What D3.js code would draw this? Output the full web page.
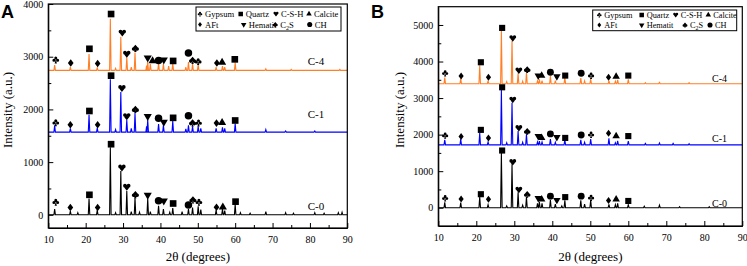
<!DOCTYPE html>
<html>
<head>
<meta charset="utf-8">
<script src="https://cdn.jsdelivr.net/npm/d3@7"></script>
<style>
  body { margin: 0; background: #fff; }
  svg { display: block; background: #fff; }
</style>
</head>
<body>
<svg id="chart" width="747" height="266"></svg>
<script>
// ---- data ----
const xTicks = [10, 20, 30, 40, 50, 60, 70, 80, 90];
const xMinor = [15, 25, 35, 45, 55, 65, 75, 85];
const yTicksA = [0, 1000, 2000, 3000, 4000];
const yMinorA = [500, 1500, 2500, 3500];
const yTicksB = [0, 1000, 2000, 3000, 4000, 5000];
const yMinorB = [500, 1500, 2500, 3500, 4500];

const seriesNames = ["C-0", "C-1", "C-4"];

// baseline intensity of each pattern
const baseA = [0, 1570, 2740];
const baseB = [0, 1720, 3390];

// peaks: [2θ, intensity]
const peaksA_C0 = [[11.7, 110], [15.9, 70], [17.9, 40], [20.9, 310], [23.1, 90], [26.6, 1280], [28.0, 40], [29.4, 830], [31.0, 450], [32.2, 60], [33.2, 330], [34.4, 50], [36.6, 310], [37.3, 60], [39.5, 170], [40.8, 110], [42.5, 50], [43.3, 130], [45.8, 60], [47.5, 110], [48.6, 140], [50.1, 160], [50.8, 100], [54.9, 90], [56.6, 110], [57.2, 80], [60.0, 200], [61.4, 40], [64.0, 30], [68.2, 60], [73.5, 40], [75.6, 30], [81.3, 40], [83.8, 30], [87.6, 40], [88.6, 50]];
const peaksA_C1 = [[11.7, 1700], [15.9, 1640], [20.9, 1900], [23.1, 1650], [26.6, 2570], [28.0, 1620], [29.4, 2330], [31.0, 1800], [32.2, 1640], [33.2, 1930], [36.3, 1680], [36.6, 1800], [39.5, 1720], [40.8, 1700], [43.3, 1780], [46.8, 1630], [47.5, 1700], [48.6, 1680], [50.1, 1680], [50.8, 1640], [54.9, 1640], [56.6, 1660], [57.2, 1640], [60.0, 1730], [68.2, 1620], [73.5, 1590], [81.3, 1590]];
const peaksA_C4 = [[11.7, 2840], [15.9, 2800], [20.9, 3050], [23.1, 2790], [26.6, 3720], [28.0, 2780], [29.4, 3380], [31.0, 2990], [32.2, 2800], [33.2, 3080], [36.3, 2830], [36.6, 2900], [37.3, 2860], [39.5, 2880], [40.8, 2860], [42.2, 2820], [43.3, 2880], [46.8, 2800], [47.5, 2900], [48.6, 2860], [50.1, 2850], [54.9, 2800], [56.6, 2820], [57.2, 2800], [60.0, 2890], [68.2, 2770], [75.0, 2760], [88.0, 2760]];

const peaksB_C0 = [[11.7, 150], [15.9, 140], [20.9, 300], [23.1, 80], [26.6, 1500], [28.0, 50], [29.4, 1190], [31.0, 420], [32.2, 70], [33.2, 300], [36.1, 120], [36.6, 160], [37.3, 120], [39.5, 220], [40.8, 100], [42.5, 50], [43.3, 200], [47.5, 200], [48.5, 100], [50.1, 210], [54.9, 90], [56.6, 80], [57.2, 120], [60.0, 80], [64.2, 40], [68.2, 70], [73.5, 30], [81.3, 30]];
const peaksB_C1 = [[11.7, 1860], [15.9, 1880], [20.9, 2050], [23.1, 1800], [26.6, 3220], [28.0, 1780], [29.4, 2870], [31.0, 2100], [32.2, 1790], [33.2, 2010], [36.1, 1800], [36.6, 1820], [37.3, 1800], [39.5, 1880], [40.8, 1790], [43.3, 1860], [47.5, 1860], [48.5, 1790], [50.1, 1880], [54.9, 1900], [56.6, 1780], [57.2, 1830], [60.0, 1820], [64.5, 1760], [68.2, 1770], [71.8, 1760], [76.0, 1750]];
const peaksB_C4 = [[11.7, 3560], [15.9, 3530], [20.9, 3900], [23.1, 3480], [26.6, 4860], [28.0, 3450], [29.4, 4560], [31.0, 3680], [32.2, 3460], [33.2, 3700], [36.1, 3470], [36.6, 3510], [37.3, 3480], [39.5, 3600], [40.8, 3480], [43.3, 3560], [47.5, 3550], [48.5, 3470], [50.1, 3520], [54.9, 3480], [56.6, 3460], [57.2, 3500], [60.0, 3510], [64.5, 3420], [68.2, 3430], [76.0, 3420]];

// phase markers: [2θ, intensity, phase]
const markersA_C0 = [[12.0, 240, "gypsum"], [15.9, 140, "aft"], [21.0, 380, "quartz"], [23.2, 140, "aft"], [26.8, 1340, "quartz"], [29.7, 890, "csh"], [31.0, 525, "csh"], [33.3, 385, "c2s"], [36.6, 375, "hematit"], [39.5, 265, "ch"], [40.9, 265, "hematit"], [43.4, 215, "quartz"], [47.5, 185, "ch"], [48.7, 285, "c2s"], [50.3, 240, "gypsum"], [55.0, 145, "aft"], [56.7, 145, "calcite"], [60.1, 250, "quartz"]];
const markersA_C1 = [[12.0, 1750, "gypsum"], [15.9, 1710, "aft"], [21.0, 1970, "quartz"], [23.2, 1710, "aft"], [26.8, 2640, "quartz"], [29.7, 2400, "csh"], [31.0, 1865, "csh"], [33.3, 2000, "c2s"], [36.6, 1870, "hematit"], [39.5, 1830, "ch"], [40.9, 1760, "hematit"], [43.4, 1840, "quartz"], [47.5, 1880, "ch"], [48.6, 1745, "c2s"], [50.2, 1745, "gypsum"], [55.0, 1740, "aft"], [56.5, 1750, "calcite"], [60.0, 1790, "quartz"]];
const markersA_C4 = [[12.0, 2940, "gypsum"], [16.0, 2880, "aft"], [21.0, 3150, "quartz"], [23.2, 2870, "aft"], [26.8, 3810, "quartz"], [29.8, 3450, "csh"], [31.0, 3050, "csh"], [33.3, 3160, "c2s"], [36.6, 2980, "hematit"], [37.9, 2920, "calcite"], [39.5, 2930, "ch"], [40.9, 2940, "hematit"], [43.4, 2920, "quartz"], [47.5, 3070, "ch"], [48.6, 2930, "c2s"], [50.1, 2910, "gypsum"], [55.1, 2880, "aft"], [56.5, 2890, "calcite"], [59.9, 2950, "quartz"]];

const markersB_C0 = [[11.8, 262, "gypsum"], [16.0, 240, "aft"], [21.2, 370, "quartz"], [23.2, 230, "aft"], [26.8, 1565, "quartz"], [29.6, 1245, "csh"], [31.2, 490, "csh"], [33.4, 365, "c2s"], [36.3, 262, "hematit"], [37.2, 230, "calcite"], [39.5, 317, "ch"], [41.2, 210, "hematit"], [43.4, 290, "quartz"], [47.6, 317, "ch"], [50.2, 273, "gypsum"], [54.8, 200, "aft"], [56.8, 230, "calcite"], [60.0, 185, "quartz"]];
const markersB_C1 = [[11.8, 1975, "gypsum"], [16.0, 1950, "aft"], [21.2, 2130, "quartz"], [23.2, 1910, "aft"], [26.8, 3295, "quartz"], [29.6, 2950, "csh"], [31.2, 2175, "csh"], [33.4, 2090, "c2s"], [36.3, 1960, "hematit"], [37.2, 1910, "calcite"], [39.5, 2020, "ch"], [41.2, 1930, "hematit"], [43.4, 1910, "quartz"], [47.6, 1990, "ch"], [50.2, 2000, "gypsum"], [54.8, 2040, "aft"], [56.8, 1960, "calcite"], [60.0, 1960, "quartz"]];
const markersB_C4 = [[11.8, 3680, "gypsum"], [16.0, 3605, "aft"], [21.2, 3980, "quartz"], [23.2, 3570, "aft"], [26.8, 4920, "quartz"], [29.6, 4635, "csh"], [31.2, 3750, "csh"], [33.4, 3780, "c2s"], [36.3, 3615, "hematit"], [37.2, 3615, "calcite"], [39.5, 3705, "ch"], [41.2, 3590, "hematit"], [43.4, 3615, "quartz"], [47.6, 3680, "ch"], [50.2, 3615, "gypsum"], [54.8, 3570, "aft"], [56.8, 3590, "calcite"], [60.0, 3615, "quartz"]];

const legendPhases = ["gypsum", "quartz", "csh", "calcite", "aft", "hematit", "c2s", "ch"];
const legendLabels = ["Gypsum", "Quartz", "C-S-H", "Calcite", "AFt", "Hematit", "C2S", "CH"];

// ---- styles ----
const colors = ["#000000", "#0000ff", "#ff7f27"];
const serif = "'Liberation Serif', 'Times New Roman', serif";

const svg = d3.select("#chart");

// custom glyph symbols (filled, drawn in one winding direction)
function blob(ctx, cx, cy, rr) {
  ctx.moveTo(cx + rr, cy);
  ctx.arc(cx, cy, rr, 0, 2 * Math.PI);
}
function tri(ctx, a, b, c) {
  ctx.moveTo(a[0], a[1]);
  ctx.lineTo(b[0], b[1]);
  ctx.lineTo(c[0], c[1]);
  ctx.closePath();
}
const symHeart = {
  draw(ctx, size) {
    const r = Math.sqrt(size) / 2;
    blob(ctx, -0.5 * r, -0.4 * r, 0.53 * r);
    blob(ctx, 0.5 * r, -0.4 * r, 0.53 * r);
    tri(ctx, [-1.0 * r, -0.25 * r], [1.0 * r, -0.25 * r], [0, 1.0 * r]);
  }
};
const symSpade = {
  draw(ctx, size) {
    const r = Math.sqrt(size) / 2;
    blob(ctx, -0.5 * r, 0.2 * r, 0.5 * r);
    blob(ctx, 0.5 * r, 0.2 * r, 0.5 * r);
    tri(ctx, [1.0 * r, 0.1 * r], [-1.0 * r, 0.1 * r], [0, -1.0 * r]);
    tri(ctx, [0, 0.3 * r], [0.35 * r, 1.0 * r], [-0.35 * r, 1.0 * r]);
  }
};
const symClub = {
  draw(ctx, size) {
    const r = Math.sqrt(size) / 2;
    blob(ctx, 0, -0.5 * r, 0.42 * r);
    blob(ctx, -0.52 * r, 0.12 * r, 0.42 * r);
    blob(ctx, 0.52 * r, 0.12 * r, 0.42 * r);
    tri(ctx, [0, 0], [0.32 * r, 1.0 * r], [-0.32 * r, 1.0 * r]);
  }
};
const symCard = {
  draw(ctx, size) {
    const r = Math.sqrt(size) / 2;
    ctx.moveTo(0, -r);
    ctx.lineTo(0.75 * r, 0);
    ctx.lineTo(0, r);
    ctx.lineTo(-0.75 * r, 0);
    ctx.closePath();
  }
};

const phaseSymbol = {
  gypsum: { type: symClub, k: 1.0, rot: 0 },
  quartz: { type: d3.symbolSquare, k: 0.85, rot: 0 },
  csh: { type: symHeart, k: 1.0, rot: 0 },
  calcite: { type: d3.symbolTriangle, k: 0.55, rot: 0 },
  aft: { type: symCard, k: 1.1, rot: 0 },
  hematit: { type: d3.symbolTriangle, k: 0.55, rot: 180 },
  c2s: { type: symSpade, k: 1.0, rot: 0 },
  ch: { type: d3.symbolCircle, k: 0.85, rot: 0 }
};

function drawMarker(g, px, py, phase, size) {
  const s = phaseSymbol[phase];
  g.append("path")
    .attr("d", d3.symbol().type(s.type).size(size * s.k)())
    .attr("transform", `translate(${px},${py}) rotate(${s.rot})`)
    .attr("fill", "#000");
}

function tracePoints(base, peaks) {
  const pts = [[10, base]];
  peaks.forEach(([t, v]) => {
    pts.push([t - 0.2, base], [t, v], [t + 0.2, base]);
  });
  pts.push([90, base]);
  return pts;
}

function drawPanel(p) {
  const x = d3.scaleLinear().domain([10, 90]).range(p.xRange);
  const y = d3.scaleLinear().domain(p.yDomain).range(p.yRange);
  const g = svg.append("g");

  // curves
  const line = d3.line().x((d) => x(d[0])).y((d) => y(d[1]));
  p.peaks.forEach((pk, i) => {
    g.append("path")
      .attr("d", line(tracePoints(p.base[i], pk)))
      .attr("fill", "none")
      .attr("stroke", colors[i])
      .attr("stroke-width", 1.1)
      .attr("stroke-linejoin", "miter");
  });

  // phase markers
  p.markers.forEach((list) => {
    list.forEach(([t, v, ph]) => drawMarker(g, x(t), y(v), ph, p.markerSize));
  });

  // series labels
  p.labelPos.forEach(([t, v], i) => {
    g.append("text")
      .attr("x", x(t))
      .attr("y", y(v))
      .attr("text-anchor", "middle")
      .attr("font-family", serif)
      .attr("font-size", p.labelSize)
      .text(seriesNames[i]);
  });

  // frame
  g.append("rect")
    .attr("x", p.xRange[0])
    .attr("y", p.yRange[1])
    .attr("width", p.xRange[1] - p.xRange[0])
    .attr("height", p.yRange[0] - p.yRange[1])
    .attr("fill", "none")
    .attr("stroke", "#000")
    .attr("stroke-width", 1.2);

  // axes (ticks point inward)
  const gx = g.append("g").attr("transform", `translate(0,${p.yRange[0]})`);
  gx.call(d3.axisBottom(x).tickValues(xTicks).tickFormat(d3.format("d"))
    .tickSize(-5).tickSizeOuter(0).tickPadding(8));
  gx.append("g").call(d3.axisBottom(x).tickValues(xMinor).tickSize(-3).tickFormat(""))
    .call((a) => a.select(".domain").remove());

  const gy = g.append("g").attr("transform", `translate(${p.xRange[0]},0)`);
  gy.call(d3.axisLeft(y).tickValues(p.yTicks).tickFormat(d3.format("d"))
    .tickSize(-5).tickSizeOuter(0).tickPadding(5));
  gy.append("g").call(d3.axisLeft(y).tickValues(p.yMinor).tickSize(-3).tickFormat(""))
    .call((a) => a.select(".domain").remove());

  [gx, gy].forEach((a) => {
    a.attr("font-family", serif).attr("font-size", 10);
    a.selectAll("line, path").attr("stroke", "#000");
    a.selectAll("text").attr("fill", "#000");
  });

  // axis titles
  g.append("text")
    .attr("x", (p.xRange[0] + p.xRange[1]) / 2)
    .attr("y", 261)
    .attr("text-anchor", "middle")
    .attr("font-family", serif)
    .attr("font-size", 13)
    .text("2θ (degrees)");

  g.append("text")
    .attr("transform", `translate(${p.yTitleX},110) rotate(-90)`)
    .attr("text-anchor", "middle")
    .attr("font-family", serif)
    .attr("font-size", 13)
    .text("Intensity (a.u.)");

  // panel letter
  g.append("text")
    .attr("x", p.letterX)
    .attr("y", 18)
    .attr("font-family", "'Liberation Sans', Arial, sans-serif")
    .attr("font-weight", "bold")
    .attr("font-size", 18)
    .text(p.letter);

  // legend
  const lg = p.legend;
  g.append("rect")
    .attr("x", lg.box[0])
    .attr("y", lg.box[1])
    .attr("width", lg.box[2])
    .attr("height", lg.box[3])
    .attr("fill", "#fff")
    .attr("stroke", "#000")
    .attr("stroke-width", 1);
  legendPhases.forEach((ph, i) => {
    const row = i < 4 ? 0 : 1;
    const sx = lg.cols[row][i % 4];
    const sy = lg.rows[row];
    drawMarker(g, sx, sy, ph, 24);
    const t = g.append("text")
      .attr("x", sx + 5)
      .attr("y", sy + 3)
      .attr("font-family", serif)
      .attr("font-size", lg.font);
    if (legendLabels[i] === "C2S") {
      t.append("tspan").text("C");
      t.append("tspan").attr("font-size", 6).attr("dy", 2).text("2");
      t.append("tspan").attr("dy", -2).text("S");
    } else {
      t.text(legendLabels[i]);
    }
  });
}

drawPanel({
  letter: "A",
  letterX: 1,
  xRange: [48.3, 347.3],
  yDomain: [-250, 4000],
  yRange: [228, 4],
  yTicks: yTicksA,
  yMinor: yMinorA,
  yTitleX: 12,
  base: baseA,
  peaks: [peaksA_C0, peaksA_C1, peaksA_C4],
  markers: [markersA_C0, markersA_C1, markersA_C4],
  markerSize: 52,
  labelPos: [[81.6, 95], [81.6, 1840], [81.6, 2846]],
  labelSize: 11,
  legend: {
    box: [196, 7, 145, 24],
    rows: [14, 24.5],
    cols: [[200, 240.7, 276, 309], [200, 243.7, 275.3, 309.7]],
    font: 8.6
  }
});

drawPanel({
  letter: "B",
  letterX: 371,
  xRange: [438.3, 742.3],
  yDomain: [-500, 5500],
  yRange: [226, 6.7],
  yTicks: yTicksB,
  yMinor: yMinorB,
  yTitleX: 404,
  base: baseB,
  peaks: [peaksB_C0, peaksB_C1, peaksB_C4],
  markers: [markersB_C0, markersB_C1, markersB_C4],
  markerSize: 44,
  labelPos: [[84.0, 20], [84.0, 1800], [84.0, 3450]],
  labelSize: 10,
  legend: {
    box: [592.7, 10, 144, 20.7],
    rows: [15, 25],
    cols: [[599.3, 641.7, 675.7, 708.3], [599.3, 641.7, 685, 710]],
    font: 8.3
  }
});
</script>
</body>
</html>
